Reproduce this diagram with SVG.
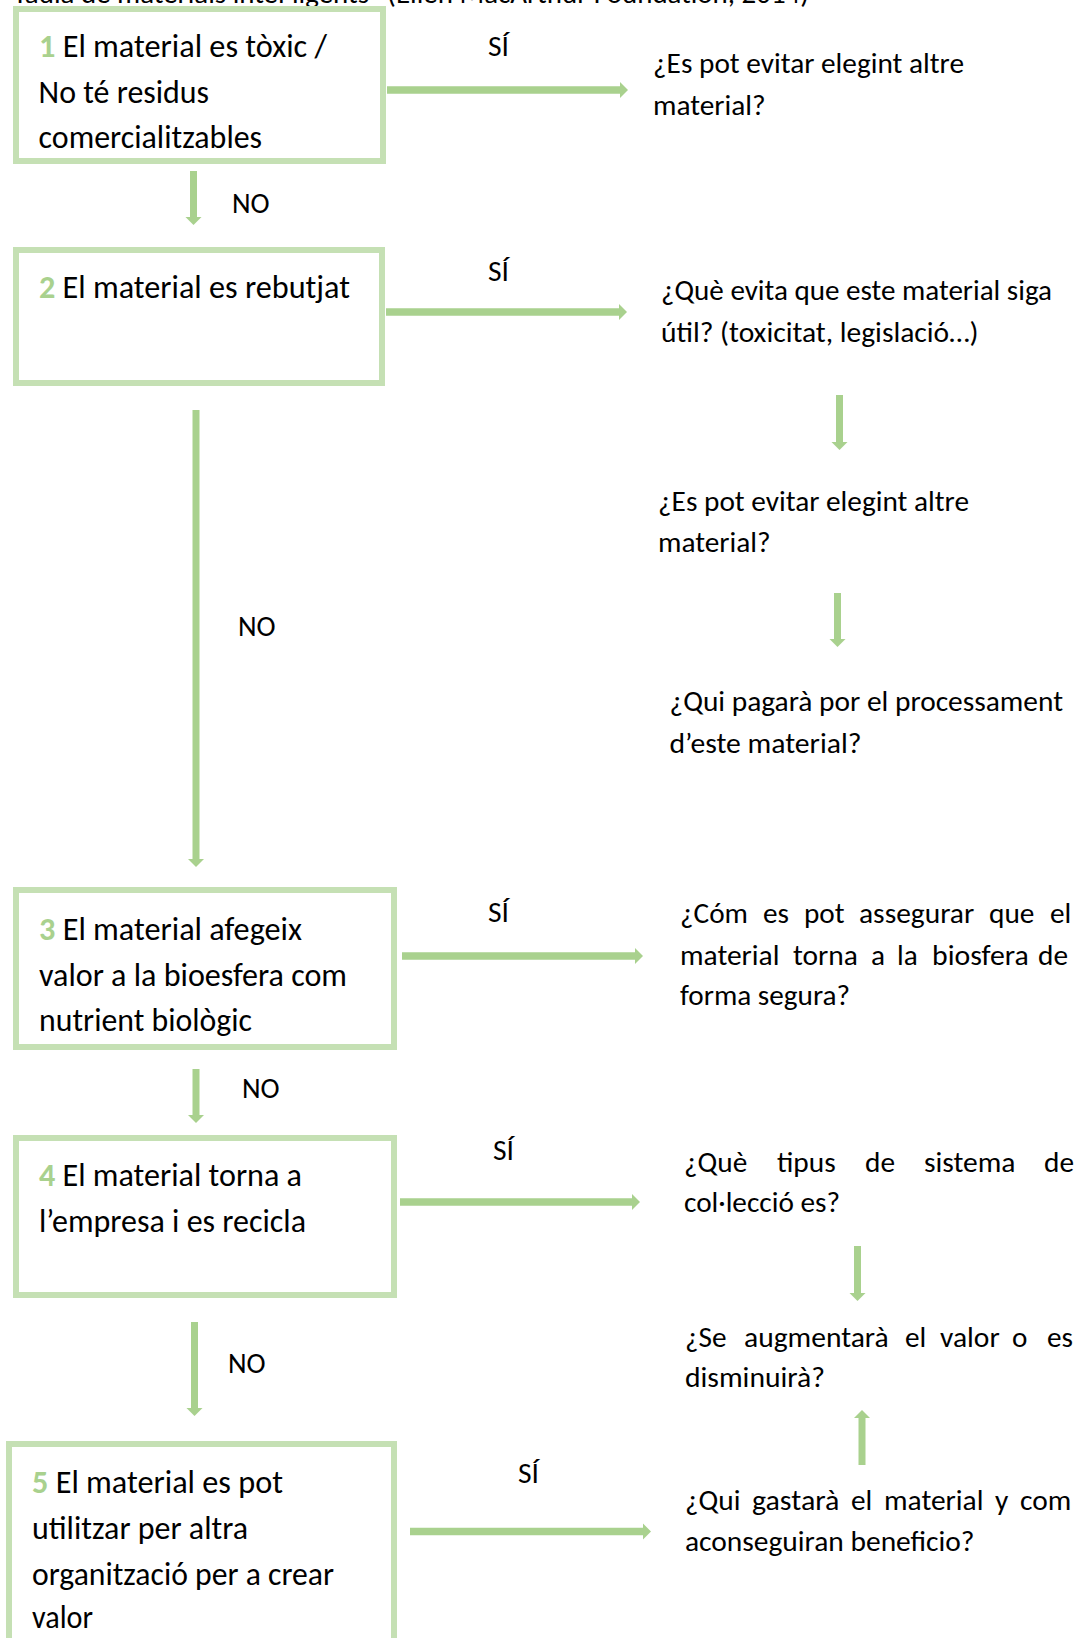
<svg xmlns="http://www.w3.org/2000/svg" width="1081" height="1638" viewBox="0 0 1081 1638">
<style>
.box{fill:#ffffff;stroke:#c5e0b4;stroke-width:6}
.arr{fill:#a9d18e;stroke:none}
text{font-family:Carlito,Calibri,Lato,"Open Sans","Liberation Sans",sans-serif;fill:#000}
.bt{font-size:32px}
.q{font-size:29.3px}
.lb{font-size:29.3px}
.num{fill:#a9d18e;font-weight:bold}
</style>
<rect width="1081" height="1638" fill="#ffffff"/>
<text class="q" x="13" y="3" textLength="796" lengthAdjust="spacingAndGlyphs">Taula de materials intel·ligents" (Ellen MacArthur Foundation, 2014)</text>

<g id="connectors">
<path class="arr" d="M387 86.25H620V82L628 90L620 98V93.75H387Z"/>
<path class="arr" d="M386 308.25H619V304L627 312L619 320V315.75H386Z"/>
<path class="arr" d="M402 952.25H635V948L643 956L635 964V959.75H402Z"/>
<path class="arr" d="M400 1198.25H632V1194L640 1202L632 1210V1205.75H400Z"/>
<path class="arr" d="M410 1527.75H643V1523.5L651 1531.5L643 1539.5V1535.25H410Z"/>
<path class="arr" d="M190 171H197V217H201.5L193.5 225L185.5 217H190Z"/>
<path class="arr" d="M192.5 410H199.5V859H204L196 867L188 859H192.5Z"/>
<path class="arr" d="M192.5 1069H199.5V1115H204L196 1123L188 1115H192.5Z"/>
<path class="arr" d="M191 1322H198V1408H202.5L194.5 1416L186.5 1408H191Z"/>
<path class="arr" d="M836 395H843V442H847.5L839.5 450L831.5 442H836Z"/>
<path class="arr" d="M834 593H841V639H845.5L837.5 647L829.5 639H834Z"/>
<path class="arr" d="M854 1246H861V1293H865.5L857.5 1301L849.5 1293H854Z"/>
<path class="arr" d="M858.5 1465V1418H854L862 1410L870 1418H865.5V1465Z"/>
<text class="lb" x="488" y="55.7" textLength="21" lengthAdjust="spacingAndGlyphs">SÍ</text>
<text class="lb" x="232" y="213" textLength="37.6" lengthAdjust="spacingAndGlyphs">NO</text>
<text class="lb" x="488" y="281" textLength="21" lengthAdjust="spacingAndGlyphs">SÍ</text>
<text class="lb" x="238" y="636" textLength="37.6" lengthAdjust="spacingAndGlyphs">NO</text>
<text class="lb" x="488" y="922" textLength="21" lengthAdjust="spacingAndGlyphs">SÍ</text>
<text class="lb" x="242" y="1098" textLength="37.6" lengthAdjust="spacingAndGlyphs">NO</text>
<text class="lb" x="493" y="1160" textLength="21" lengthAdjust="spacingAndGlyphs">SÍ</text>
<text class="lb" x="228" y="1373" textLength="37.6" lengthAdjust="spacingAndGlyphs">NO</text>
<text class="lb" x="518" y="1483" textLength="21" lengthAdjust="spacingAndGlyphs">SÍ</text>
</g>

<g id="node1">
<rect class="box" x="16" y="9" width="367" height="152"/>
<text class="bt" x="39" y="56.7" textLength="288" lengthAdjust="spacingAndGlyphs"><tspan class="num">1</tspan> El material es tòxic /</text>
<text class="bt" x="38.6" y="102.5" textLength="170.5" lengthAdjust="spacingAndGlyphs">No té residus</text>
<text class="bt" x="38.6" y="148" textLength="223.5" lengthAdjust="spacingAndGlyphs">comercialitzables</text>
</g>

<g id="node2">
<rect class="box" x="16" y="250" width="366" height="133"/>
<text class="bt" x="39" y="298" textLength="311" lengthAdjust="spacingAndGlyphs"><tspan class="num">2</tspan> El material es rebutjat</text>
</g>

<g id="node3">
<rect class="box" x="16" y="890" width="378" height="157"/>
<text class="bt" x="39" y="939.5" textLength="263" lengthAdjust="spacingAndGlyphs"><tspan class="num">3</tspan> El material afegeix</text>
<text class="bt" x="39" y="985.5" textLength="308" lengthAdjust="spacingAndGlyphs">valor a la bioesfera com</text>
<text class="bt" x="39" y="1030.5" textLength="213" lengthAdjust="spacingAndGlyphs">nutrient biològic</text>
</g>

<g id="node4">
<rect class="box" x="16" y="1138" width="378" height="157"/>
<text class="bt" x="39" y="1185.5" textLength="263" lengthAdjust="spacingAndGlyphs"><tspan class="num">4</tspan> El material torna a</text>
<text class="bt" x="39" y="1231.5" textLength="267" lengthAdjust="spacingAndGlyphs">l’empresa i es recicla</text>
</g>

<g id="node5">
<rect class="box" x="9" y="1444" width="385" height="260"/>
<text class="bt" x="32" y="1493" textLength="251" lengthAdjust="spacingAndGlyphs"><tspan class="num">5</tspan> El material es pot</text>
<text class="bt" x="32" y="1539" textLength="216" lengthAdjust="spacingAndGlyphs">utilitzar per altra</text>
<text class="bt" x="32" y="1584.5" textLength="302" lengthAdjust="spacingAndGlyphs">organització per a crear</text>
<text class="bt" x="32" y="1628" textLength="61" lengthAdjust="spacingAndGlyphs">valor</text>
</g>

<g id="q1">
<text class="q" x="653" y="73" textLength="311" lengthAdjust="spacingAndGlyphs">¿Es pot evitar elegint altre</text>
<text class="q" x="653" y="114.5" textLength="112.5" lengthAdjust="spacingAndGlyphs">material?</text>
</g>

<g id="q2">
<text class="q" x="661" y="300" textLength="391" lengthAdjust="spacingAndGlyphs">¿Què evita que este material siga</text>
<text class="q" x="661" y="342" textLength="317.5" lengthAdjust="spacingAndGlyphs">útil? (toxicitat, legislació…)</text>
</g>

<g id="q3">
<text class="q" x="658" y="511" textLength="311" lengthAdjust="spacingAndGlyphs">¿Es pot evitar elegint altre</text>
<text class="q" x="658" y="552" textLength="112.5" lengthAdjust="spacingAndGlyphs">material?</text>
</g>

<g id="q4">
<text class="q" x="669.5" y="711" textLength="393.5" lengthAdjust="spacingAndGlyphs">¿Qui pagarà por el processament</text>
<text class="q" x="669.5" y="753" textLength="192" lengthAdjust="spacingAndGlyphs">d’este material?</text>
</g>

<g id="q5">
<text class="q" x="680" y="923" textLength="68" lengthAdjust="spacingAndGlyphs">¿Cóm</text>
<text class="q" x="763" y="923" textLength="26" lengthAdjust="spacingAndGlyphs">es</text>
<text class="q" x="804" y="923" textLength="40.6" lengthAdjust="spacingAndGlyphs">pot</text>
<text class="q" x="859" y="923" textLength="115.2" lengthAdjust="spacingAndGlyphs">assegurar</text>
<text class="q" x="989" y="923" textLength="45.4" lengthAdjust="spacingAndGlyphs">que</text>
<text class="q" x="1050" y="923" textLength="21.3" lengthAdjust="spacingAndGlyphs">el</text>
<text class="q" x="680" y="965" textLength="99.5" lengthAdjust="spacingAndGlyphs">material</text>
<text class="q" x="793" y="965" textLength="64.9" lengthAdjust="spacingAndGlyphs">torna</text>
<text class="q" x="871" y="965" textLength="14" lengthAdjust="spacingAndGlyphs">a</text>
<text class="q" x="897" y="965" textLength="20.7" lengthAdjust="spacingAndGlyphs">la</text>
<text class="q" x="932" y="965" textLength="96.8" lengthAdjust="spacingAndGlyphs">biosfera</text>
<text class="q" x="1038" y="965" textLength="30" lengthAdjust="spacingAndGlyphs">de</text>
<text class="q" x="680" y="1005" textLength="170" lengthAdjust="spacingAndGlyphs">forma segura?</text>
</g>

<g id="q6">
<text class="q" x="684" y="1172" textLength="63.3" lengthAdjust="spacingAndGlyphs">¿Què</text>
<text class="q" x="777" y="1172" textLength="58.7" lengthAdjust="spacingAndGlyphs">tipus</text>
<text class="q" x="865" y="1172" textLength="30" lengthAdjust="spacingAndGlyphs">de</text>
<text class="q" x="924" y="1172" textLength="91.5" lengthAdjust="spacingAndGlyphs">sistema</text>
<text class="q" x="1044" y="1172" textLength="30" lengthAdjust="spacingAndGlyphs">de</text>
<text class="q" x="684" y="1212" textLength="156" lengthAdjust="spacingAndGlyphs">col·lecció es?</text>
</g>

<g id="q7">
<text class="q" x="685" y="1347" textLength="41.6" lengthAdjust="spacingAndGlyphs">¿Se</text>
<text class="q" x="744" y="1347" textLength="144.7" lengthAdjust="spacingAndGlyphs">augmentarà</text>
<text class="q" x="905" y="1347" textLength="21.3" lengthAdjust="spacingAndGlyphs">el</text>
<text class="q" x="940" y="1347" textLength="59.7" lengthAdjust="spacingAndGlyphs">valor</text>
<text class="q" x="1012" y="1347" textLength="15.4" lengthAdjust="spacingAndGlyphs">o</text>
<text class="q" x="1047" y="1347" textLength="26" lengthAdjust="spacingAndGlyphs">es</text>
<text class="q" x="685" y="1387" textLength="140" lengthAdjust="spacingAndGlyphs">disminuirà?</text>
</g>

<g id="q8">
<text class="q" x="685" y="1510" textLength="55.5" lengthAdjust="spacingAndGlyphs">¿Qui</text>
<text class="q" x="752" y="1510" textLength="87.4" lengthAdjust="spacingAndGlyphs">gastarà</text>
<text class="q" x="851" y="1510" textLength="21.3" lengthAdjust="spacingAndGlyphs">el</text>
<text class="q" x="884" y="1510" textLength="99.5" lengthAdjust="spacingAndGlyphs">material</text>
<text class="q" x="995" y="1510" textLength="13.3" lengthAdjust="spacingAndGlyphs">y</text>
<text class="q" x="1020" y="1510" textLength="51.2" lengthAdjust="spacingAndGlyphs">com</text>
<text class="q" x="685" y="1551" textLength="289.5" lengthAdjust="spacingAndGlyphs">aconseguiran beneficio?</text>
</g>
</svg>
